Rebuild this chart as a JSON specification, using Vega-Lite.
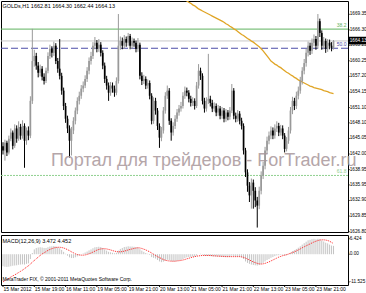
{
"$schema":"https://vega.github.io/schema/vega-lite/v6.json",
"padding":0,
"spacing":0,
"background":"white",
"config":{"view":{"stroke":"#000","strokeWidth":1},"axis":{"labelFont":"Liberation Sans"},"text":{"font":"Liberation Sans"}},
"datasets":{
"levels":[{"lv":"38.2","p":1666.45},{"lv":"50.0","p":1662.7},{"lv":"61.8","p":1637.8}],
"pticks":[{"p":1669.35},{"p":1666.30},{"p":1663.25},{"p":1660.25},{"p":1657.20},{"p":1654.15},{"p":1651.10},{"p":1648.10},{"p":1645.05},{"p":1642.00},{"p":1638.95},{"p":1635.95},{"p":1632.90},{"p":1629.85},{"p":1626.80}],
"mticks":[{"v":6.424,"lab":"6.424"},{"v":0,"lab":"0.00"},{"v":-11.525,"lab":"-11.525"}],
"tticks":[{"i":0,"lab":"15 Mar 2012"},{"i":16,"lab":"15 Mar 19:00"},{"i":32,"lab":"16 Mar 11:00"},{"i":48,"lab":"19 Mar 05:00"},{"i":64,"lab":"19 Mar 21:00"},{"i":80,"lab":"20 Mar 13:00"},{"i":96,"lab":"21 Mar 05:00"},{"i":112,"lab":"21 Mar 21:00"},{"i":128,"lab":"22 Mar 13:00"},{"i":144,"lab":"23 Mar 05:00"},{"i":160,"lab":"23 Mar 21:00"}],
"bars":[
{"i":0,"o":1643.5,"h":1644.3,"l":1641.9,"c":1642.7,"m":-5.0,"s":-11.5},
{"i":1,"o":1642.7,"h":1644.8,"l":1640.7,"c":1644.2,"m":-5.2,"s":-11.0},
{"i":2,"o":1644.2,"h":1644.6,"l":1641.6,"c":1642.3,"m":-5.3,"s":-10.5},
{"i":3,"o":1642.3,"h":1645.6,"l":1641.9,"c":1645.0,"m":-5.2,"s":-10.0},
{"i":4,"o":1645.0,"h":1647.0,"l":1644.5,"c":1646.2,"m":-5.0,"s":-9.5},
{"i":5,"o":1646.2,"h":1646.6,"l":1642.9,"c":1643.6,"m":-4.8,"s":-9.0},
{"i":6,"o":1643.6,"h":1647.8,"l":1643.2,"c":1647.0,"m":-4.7,"s":-8.6},
{"i":7,"o":1647.0,"h":1647.6,"l":1644.2,"c":1645.0,"m":-4.6,"s":-8.1},
{"i":8,"o":1645.0,"h":1648.4,"l":1644.6,"c":1647.3,"m":-4.4,"s":-7.6},
{"i":9,"o":1647.3,"h":1647.9,"l":1644.8,"c":1645.6,"m":-4.3,"s":-7.1},
{"i":10,"o":1645.6,"h":1648.6,"l":1645.0,"c":1647.5,"m":-4.2,"s":-6.6},
{"i":11,"o":1647.5,"h":1648.0,"l":1639.3,"c":1644.6,"m":-4.3,"s":-6.0},
{"i":12,"o":1644.6,"h":1647.2,"l":1643.8,"c":1646.6,"m":-4.0,"s":-5.4},
{"i":13,"o":1646.6,"h":1647.4,"l":1644.7,"c":1645.6,"m":-3.8,"s":-4.8},
{"i":14,"o":1645.6,"h":1653.3,"l":1645.1,"c":1652.4,"m":-2.0,"s":-4.1},
{"i":15,"o":1652.4,"h":1666.5,"l":1651.8,"c":1660.2,"m":0.5,"s":-3.3},
{"i":16,"o":1660.2,"h":1662.4,"l":1659.1,"c":1661.2,"m":2.0,"s":-2.6},
{"i":17,"o":1661.2,"h":1661.8,"l":1658.5,"c":1659.3,"m":2.6,"s":-1.9},
{"i":18,"o":1659.3,"h":1660.0,"l":1657.0,"c":1657.9,"m":2.8,"s":-1.2},
{"i":19,"o":1657.9,"h":1659.5,"l":1657.2,"c":1658.7,"m":2.9,"s":-0.5},
{"i":20,"o":1658.7,"h":1659.2,"l":1656.4,"c":1657.1,"m":2.8,"s":0.1},
{"i":21,"o":1657.1,"h":1657.8,"l":1655.6,"c":1656.3,"m":2.6,"s":0.6},
{"i":22,"o":1656.3,"h":1658.9,"l":1655.9,"c":1658.3,"m":2.6,"s":1.1},
{"i":23,"o":1658.3,"h":1661.9,"l":1657.8,"c":1661.2,"m":2.9,"s":1.6},
{"i":24,"o":1661.2,"h":1663.4,"l":1660.6,"c":1662.6,"m":3.2,"s":2.0},
{"i":25,"o":1662.6,"h":1663.1,"l":1660.9,"c":1661.8,"m":3.3,"s":2.3},
{"i":26,"o":1661.8,"h":1664.0,"l":1661.2,"c":1663.2,"m":3.4,"s":2.6},
{"i":27,"o":1663.2,"h":1663.7,"l":1659.6,"c":1660.2,"m":3.2,"s":2.8},
{"i":28,"o":1660.2,"h":1660.8,"l":1657.9,"c":1658.7,"m":2.9,"s":2.9},
{"i":29,"o":1658.7,"h":1664.5,"l":1656.6,"c":1657.3,"m":2.5,"s":2.9},
{"i":30,"o":1657.3,"h":1657.9,"l":1653.6,"c":1654.4,"m":1.8,"s":2.8},
{"i":31,"o":1654.4,"h":1655.0,"l":1650.6,"c":1651.4,"m":1.0,"s":2.6},
{"i":32,"o":1651.4,"h":1652.0,"l":1648.1,"c":1648.9,"m":0.2,"s":2.3},
{"i":33,"o":1648.9,"h":1649.5,"l":1646.1,"c":1647.0,"m":-0.6,"s":1.9},
{"i":34,"o":1647.0,"h":1647.6,"l":1641.3,"c":1644.6,"m":-1.3,"s":1.5},
{"i":35,"o":1644.6,"h":1647.3,"l":1641.7,"c":1646.6,"m":-1.6,"s":1.0},
{"i":36,"o":1646.6,"h":1649.2,"l":1645.9,"c":1648.5,"m":-1.6,"s":0.6},
{"i":37,"o":1648.5,"h":1651.1,"l":1647.8,"c":1650.5,"m":-1.3,"s":0.2},
{"i":38,"o":1650.5,"h":1653.1,"l":1649.8,"c":1652.4,"m":-0.9,"s":-0.1},
{"i":39,"o":1652.4,"h":1654.2,"l":1651.7,"c":1653.4,"m":-0.5,"s":-0.3},
{"i":40,"o":1653.4,"h":1655.5,"l":1652.8,"c":1654.8,"m":-0.1,"s":-0.4},
{"i":41,"o":1654.8,"h":1656.2,"l":1654.1,"c":1655.4,"m":0.3,"s":-0.4},
{"i":42,"o":1655.4,"h":1657.4,"l":1654.9,"c":1656.7,"m":0.7,"s":-0.3},
{"i":43,"o":1656.7,"h":1659.0,"l":1656.1,"c":1658.3,"m":1.1,"s":-0.1},
{"i":44,"o":1658.3,"h":1660.9,"l":1657.6,"c":1660.2,"m":1.6,"s":0.2},
{"i":45,"o":1660.2,"h":1662.0,"l":1659.5,"c":1661.2,"m":2.0,"s":0.5},
{"i":46,"o":1661.2,"h":1663.9,"l":1660.6,"c":1663.2,"m":2.5,"s":0.9},
{"i":47,"o":1663.2,"h":1664.9,"l":1662.5,"c":1663.8,"m":2.9,"s":1.3},
{"i":48,"o":1663.8,"h":1664.3,"l":1661.9,"c":1662.6,"m":3.0,"s":1.7},
{"i":49,"o":1662.6,"h":1664.5,"l":1662.0,"c":1663.4,"m":3.1,"s":2.0},
{"i":50,"o":1663.4,"h":1663.9,"l":1661.1,"c":1661.8,"m":3.0,"s":2.2},
{"i":51,"o":1661.8,"h":1662.3,"l":1658.6,"c":1659.3,"m":2.6,"s":2.3},
{"i":52,"o":1659.3,"h":1659.9,"l":1655.9,"c":1656.7,"m":2.0,"s":2.3},
{"i":53,"o":1656.7,"h":1657.3,"l":1654.6,"c":1655.4,"m":1.5,"s":2.2},
{"i":54,"o":1655.4,"h":1656.0,"l":1652.4,"c":1654.0,"m":1.0,"s":2.0},
{"i":55,"o":1654.0,"h":1656.1,"l":1653.4,"c":1655.4,"m":0.8,"s":1.8},
{"i":56,"o":1655.4,"h":1656.0,"l":1654.0,"c":1654.8,"m":0.6,"s":1.5},
{"i":57,"o":1654.8,"h":1655.4,"l":1653.2,"c":1654.0,"m":0.4,"s":1.3},
{"i":58,"o":1654.0,"h":1657.0,"l":1653.5,"c":1656.3,"m":0.6,"s":1.1},
{"i":59,"o":1656.3,"h":1669.4,"l":1655.8,"c":1663.2,"m":1.5,"s":1.0},
{"i":60,"o":1663.2,"h":1665.0,"l":1662.4,"c":1664.1,"m":2.2,"s":1.0},
{"i":61,"o":1664.1,"h":1664.8,"l":1662.5,"c":1663.2,"m":2.6,"s":1.1},
{"i":62,"o":1663.2,"h":1665.3,"l":1662.6,"c":1664.5,"m":3.0,"s":1.3},
{"i":63,"o":1664.5,"h":1665.0,"l":1663.0,"c":1663.8,"m":3.1,"s":1.5},
{"i":64,"o":1663.8,"h":1665.7,"l":1663.2,"c":1665.1,"m":3.3,"s":1.8},
{"i":65,"o":1665.1,"h":1665.5,"l":1662.5,"c":1663.2,"m":3.2,"s":2.0},
{"i":66,"o":1663.2,"h":1664.8,"l":1662.6,"c":1664.1,"m":3.2,"s":2.2},
{"i":67,"o":1664.1,"h":1664.6,"l":1663.0,"c":1663.8,"m":3.1,"s":2.4},
{"i":68,"o":1663.8,"h":1664.2,"l":1661.9,"c":1662.6,"m":2.9,"s":2.6},
{"i":69,"o":1662.6,"h":1664.7,"l":1662.0,"c":1663.4,"m":2.8,"s":2.7},
{"i":70,"o":1663.4,"h":1663.8,"l":1656.6,"c":1657.3,"m":2.1,"s":2.6},
{"i":71,"o":1657.3,"h":1658.0,"l":1655.5,"c":1656.3,"m":1.5,"s":2.4},
{"i":72,"o":1656.3,"h":1657.5,"l":1655.7,"c":1656.7,"m":1.0,"s":2.1},
{"i":73,"o":1656.7,"h":1657.2,"l":1654.7,"c":1655.4,"m":0.5,"s":1.8},
{"i":74,"o":1655.4,"h":1656.6,"l":1654.8,"c":1655.9,"m":0.2,"s":1.4},
{"i":75,"o":1655.9,"h":1656.4,"l":1652.7,"c":1653.4,"m":-0.3,"s":1.0},
{"i":76,"o":1653.4,"h":1653.9,"l":1647.8,"c":1648.5,"m":-1.2,"s":0.5},
{"i":77,"o":1648.5,"h":1653.1,"l":1647.9,"c":1652.4,"m":-1.5,"s":0.0},
{"i":78,"o":1652.4,"h":1653.0,"l":1649.7,"c":1650.5,"m":-1.8,"s":-0.5},
{"i":79,"o":1650.5,"h":1651.0,"l":1646.7,"c":1647.5,"m":-2.4,"s":-1.0},
{"i":80,"o":1647.5,"h":1648.0,"l":1643.2,"c":1645.2,"m":-3.0,"s":-1.4},
{"i":81,"o":1645.2,"h":1647.3,"l":1644.5,"c":1646.6,"m":-3.3,"s":-1.8},
{"i":82,"o":1646.6,"h":1651.2,"l":1646.0,"c":1650.5,"m":-3.1,"s":-2.2},
{"i":83,"o":1650.5,"h":1654.1,"l":1649.9,"c":1653.4,"m":-2.7,"s":-2.5},
{"i":84,"o":1653.4,"h":1655.4,"l":1652.8,"c":1654.4,"m":-2.3,"s":-2.7},
{"i":85,"o":1654.4,"h":1654.9,"l":1647.7,"c":1648.5,"m":-2.5,"s":-2.8},
{"i":86,"o":1648.5,"h":1649.0,"l":1644.6,"c":1646.2,"m":-2.9,"s":-2.9},
{"i":87,"o":1646.2,"h":1648.2,"l":1645.6,"c":1647.5,"m":-3.0,"s":-2.9},
{"i":88,"o":1647.5,"h":1649.6,"l":1646.9,"c":1648.9,"m":-3.0,"s":-2.9},
{"i":89,"o":1648.9,"h":1650.8,"l":1648.3,"c":1650.1,"m":-2.8,"s":-2.8},
{"i":90,"o":1650.1,"h":1651.6,"l":1649.5,"c":1650.9,"m":-2.6,"s":-2.7},
{"i":91,"o":1650.9,"h":1652.2,"l":1650.3,"c":1651.4,"m":-2.4,"s":-2.6},
{"i":92,"o":1651.4,"h":1654.1,"l":1650.9,"c":1653.4,"m":-2.0,"s":-2.4},
{"i":93,"o":1653.4,"h":1655.2,"l":1652.8,"c":1654.4,"m":-1.6,"s":-2.2,"ma":1672.3},
{"i":94,"o":1654.4,"h":1655.0,"l":1653.3,"c":1654.0,"m":-1.3,"s":-1.9,"ma":1671.95},
{"i":95,"o":1654.0,"h":1654.5,"l":1652.1,"c":1652.8,"m":-1.2,"s":-1.7,"ma":1671.7},
{"i":96,"o":1652.8,"h":1653.4,"l":1651.3,"c":1652.0,"m":-1.1,"s":-1.4,"ma":1671.5},
{"i":97,"o":1652.0,"h":1653.1,"l":1651.4,"c":1652.4,"m":-1.0,"s":-1.2,"ma":1671.2},
{"i":98,"o":1652.4,"h":1652.9,"l":1650.7,"c":1651.4,"m":-1.0,"s":-1.0,"ma":1671.0},
{"i":99,"o":1651.4,"h":1656.1,"l":1651.0,"c":1655.4,"m":-0.6,"s":-0.8,"ma":1670.7},
{"i":100,"o":1655.4,"h":1659.6,"l":1654.8,"c":1658.3,"m":0.0,"s":-0.7,"ma":1670.4},
{"i":101,"o":1658.3,"h":1658.9,"l":1656.5,"c":1657.3,"m":0.2,"s":-0.6,"ma":1670.2},
{"i":102,"o":1657.3,"h":1657.8,"l":1651.7,"c":1652.4,"m":-0.2,"s":-0.5,"ma":1670.0},
{"i":103,"o":1652.4,"h":1653.0,"l":1650.1,"c":1650.9,"m":-0.6,"s":-0.5,"ma":1669.8},
{"i":104,"o":1650.9,"h":1653.1,"l":1650.3,"c":1652.4,"m":-0.7,"s":-0.5,"ma":1669.6},
{"i":105,"o":1652.4,"h":1661.6,"l":1651.8,"c":1652.8,"m":-0.7,"s":-0.5,"ma":1669.4},
{"i":106,"o":1652.8,"h":1653.4,"l":1651.3,"c":1652.0,"m":-0.8,"s":-0.5,"ma":1669.2},
{"i":107,"o":1652.0,"h":1652.6,"l":1650.2,"c":1650.9,"m":-0.9,"s":-0.6,"ma":1669.0},
{"i":108,"o":1650.9,"h":1652.1,"l":1650.3,"c":1651.4,"m":-0.9,"s":-0.7,"ma":1668.8},
{"i":109,"o":1651.4,"h":1651.9,"l":1649.4,"c":1650.1,"m":-1.0,"s":-0.7,"ma":1668.6},
{"i":110,"o":1650.1,"h":1651.6,"l":1649.5,"c":1650.9,"m":-1.0,"s":-0.8,"ma":1668.4},
{"i":111,"o":1650.9,"h":1651.4,"l":1648.8,"c":1649.5,"m":-1.1,"s":-0.8,"ma":1668.2},
{"i":112,"o":1649.5,"h":1651.2,"l":1648.9,"c":1650.5,"m":-1.1,"s":-0.9,"ma":1668.0},
{"i":113,"o":1650.5,"h":1651.0,"l":1648.2,"c":1648.9,"m":-1.2,"s":-0.9,"ma":1667.8},
{"i":114,"o":1648.9,"h":1650.8,"l":1648.3,"c":1650.1,"m":-1.2,"s":-1.0,"ma":1667.5},
{"i":115,"o":1650.1,"h":1650.6,"l":1648.6,"c":1649.3,"m":-1.2,"s":-1.0,"ma":1667.3},
{"i":116,"o":1649.3,"h":1651.2,"l":1648.7,"c":1650.5,"m":-1.1,"s":-1.0,"ma":1667.0},
{"i":117,"o":1650.5,"h":1655.7,"l":1650.0,"c":1654.4,"m":-0.6,"s":-1.0,"ma":1666.8},
{"i":118,"o":1654.4,"h":1654.9,"l":1648.8,"c":1649.5,"m":-0.8,"s":-1.0,"ma":1666.5},
{"i":119,"o":1649.5,"h":1650.1,"l":1648.2,"c":1648.9,"m":-1.0,"s":-1.0,"ma":1666.3},
{"i":120,"o":1648.9,"h":1650.6,"l":1648.3,"c":1649.9,"m":-1.0,"s":-1.0,"ma":1666.0},
{"i":121,"o":1649.9,"h":1650.4,"l":1647.8,"c":1648.5,"m":-1.1,"s":-1.0,"ma":1665.7},
{"i":122,"o":1648.5,"h":1649.1,"l":1646.8,"c":1647.5,"m":-1.3,"s":-1.1,"ma":1665.4},
{"i":123,"o":1647.5,"h":1648.0,"l":1641.9,"c":1642.7,"m":-2.0,"s":-1.3,"ma":1665.2},
{"i":124,"o":1642.7,"h":1643.2,"l":1637.5,"c":1638.4,"m":-3.0,"s":-1.6,"ma":1664.9},
{"i":125,"o":1638.4,"h":1639.0,"l":1634.6,"c":1635.8,"m":-3.6,"s":-2.0,"ma":1664.6},
{"i":126,"o":1635.8,"h":1636.5,"l":1632.6,"c":1633.9,"m":-4.0,"s":-2.4,"ma":1664.4},
{"i":127,"o":1633.9,"h":1637.2,"l":1631.3,"c":1636.4,"m":-4.3,"s":-2.8,"ma":1664.1},
{"i":128,"o":1636.4,"h":1637.0,"l":1631.3,"c":1634.8,"m":-4.5,"s":-3.2,"ma":1663.9},
{"i":129,"o":1634.8,"h":1635.5,"l":1631.6,"c":1632.9,"m":-4.6,"s":-3.5,"ma":1663.6},
{"i":130,"o":1632.9,"h":1633.6,"l":1627.6,"c":1631.9,"m":-4.7,"s":-3.8,"ma":1663.3},
{"i":131,"o":1631.9,"h":1635.6,"l":1631.2,"c":1634.8,"m":-4.5,"s":-4.0,"ma":1663.0},
{"i":132,"o":1634.8,"h":1638.6,"l":1634.1,"c":1637.8,"m":-4.1,"s":-4.1,"ma":1662.6},
{"i":133,"o":1637.8,"h":1640.5,"l":1637.1,"c":1639.7,"m":-3.6,"s":-4.0,"ma":1662.2},
{"i":134,"o":1639.7,"h":1643.4,"l":1639.0,"c":1642.7,"m":-3.0,"s":-3.8,"ma":1661.7},
{"i":135,"o":1642.7,"h":1645.4,"l":1642.0,"c":1644.6,"m":-2.4,"s":-3.5,"ma":1661.2},
{"i":136,"o":1644.6,"h":1646.4,"l":1643.9,"c":1645.6,"m":-2.0,"s":-3.2,"ma":1660.7},
{"i":137,"o":1645.6,"h":1647.4,"l":1644.9,"c":1646.6,"m":-1.5,"s":-2.8,"ma":1660.2},
{"i":138,"o":1646.6,"h":1647.2,"l":1644.9,"c":1645.6,"m":-1.2,"s":-2.4,"ma":1659.9},
{"i":139,"o":1645.6,"h":1647.8,"l":1645.0,"c":1647.0,"m":-0.8,"s":-2.0,"ma":1659.6},
{"i":140,"o":1647.0,"h":1648.4,"l":1646.3,"c":1647.5,"m":-0.5,"s":-1.6,"ma":1659.4},
{"i":141,"o":1647.5,"h":1648.1,"l":1645.5,"c":1646.2,"m":-0.4,"s":-1.2,"ma":1659.1},
{"i":142,"o":1646.2,"h":1647.7,"l":1645.6,"c":1647.0,"m":-0.2,"s":-0.9,"ma":1658.9},
{"i":143,"o":1647.0,"h":1647.6,"l":1644.9,"c":1645.6,"m":-0.2,"s":-0.6,"ma":1658.6},
{"i":144,"o":1645.6,"h":1646.1,"l":1642.3,"c":1643.0,"m":-0.5,"s":-0.4,"ma":1658.3},
{"i":145,"o":1643.0,"h":1645.3,"l":1642.5,"c":1644.6,"m":-0.4,"s":-0.2,"ma":1658.0},
{"i":146,"o":1644.6,"h":1647.3,"l":1644.0,"c":1646.6,"m":-0.1,"s":0.1,"ma":1657.8},
{"i":147,"o":1646.6,"h":1651.2,"l":1646.0,"c":1650.5,"m":0.6,"s":0.4,"ma":1657.5},
{"i":148,"o":1650.5,"h":1653.2,"l":1649.8,"c":1652.4,"m":1.3,"s":0.7,"ma":1657.3},
{"i":149,"o":1652.4,"h":1653.0,"l":1650.6,"c":1651.4,"m":1.7,"s":1.0,"ma":1657.0},
{"i":150,"o":1651.4,"h":1654.2,"l":1650.8,"c":1653.4,"m":2.2,"s":1.4,"ma":1656.8},
{"i":151,"o":1653.4,"h":1655.2,"l":1652.7,"c":1654.4,"m":2.7,"s":1.8,"ma":1656.5},
{"i":152,"o":1654.4,"h":1657.1,"l":1653.8,"c":1656.3,"m":3.3,"s":2.2,"ma":1656.3},
{"i":153,"o":1656.3,"h":1659.0,"l":1655.6,"c":1658.3,"m":4.0,"s":2.7,"ma":1656.1},
{"i":154,"o":1658.3,"h":1660.6,"l":1657.6,"c":1659.8,"m":4.6,"s":3.1,"ma":1655.9},
{"i":155,"o":1659.8,"h":1662.6,"l":1659.1,"c":1661.8,"m":5.2,"s":3.5,"ma":1655.7},
{"i":156,"o":1661.8,"h":1664.0,"l":1661.1,"c":1663.2,"m":5.8,"s":3.9,"ma":1655.5},
{"i":157,"o":1663.2,"h":1663.8,"l":1661.4,"c":1662.2,"m":6.0,"s":4.3,"ma":1655.3},
{"i":158,"o":1662.2,"h":1664.6,"l":1661.6,"c":1663.8,"m":6.3,"s":4.7,"ma":1655.2},
{"i":159,"o":1663.8,"h":1665.4,"l":1663.1,"c":1664.5,"m":6.4,"s":5.1,"ma":1655.0},
{"i":160,"o":1664.5,"h":1665.1,"l":1662.4,"c":1663.2,"m":6.2,"s":5.4,"ma":1654.9},
{"i":161,"o":1663.2,"h":1669.4,"l":1662.6,"c":1668.0,"m":6.4,"s":5.7,"ma":1654.8},
{"i":162,"o":1668.0,"h":1668.5,"l":1664.9,"c":1665.7,"m":6.3,"s":5.9,"ma":1654.7},
{"i":163,"o":1665.7,"h":1666.2,"l":1662.4,"c":1663.2,"m":5.7,"s":6.0,"ma":1654.6},
{"i":164,"o":1663.2,"h":1664.9,"l":1662.5,"c":1664.1,"m":5.3,"s":6.0,"ma":1654.4},
{"i":165,"o":1664.1,"h":1664.6,"l":1661.8,"c":1662.6,"m":4.8,"s":5.9,"ma":1654.3},
{"i":166,"o":1662.6,"h":1664.5,"l":1662.0,"c":1663.8,"m":4.5,"s":5.7,"ma":1654.2},
{"i":167,"o":1663.8,"h":1664.4,"l":1662.5,"c":1663.2,"m":4.0,"s":5.4,"ma":1654.0},
{"i":168,"o":1663.2,"h":1663.9,"l":1662.1,"c":1662.8,"m":3.6,"s":4.9,"ma":1653.9},
{"i":169,"o":1662.81,"h":1664.30,"l":1662.44,"c":1664.13,"m":3.472,"s":4.452,"ma":1653.8}
]},
"vconcat":[
{
"width":347,"height":231,
"layer":[
{"data":{"name":"pticks"},
 "mark":{"type":"rule","color":"#000","strokeWidth":1},
 "encoding":{"x":{"datum":176.4,"type":"quantitative","scale":{"domain":[-1.02,176.4],"nice":false,"zero":false},"axis":null},
   "x2":{"datum":177.2},
   "y":{"field":"p","type":"quantitative","scale":{"domain":[1626.73,1671.95],"nice":false,"zero":false},"axis":null}}},
{"data":{"name":"pticks"},
 "mark":{"type":"text","align":"left","baseline":"middle","fontSize":4.7,"color":"#000"},
 "encoding":{"x":{"datum":177.3,"type":"quantitative","axis":null},"y":{"field":"p","type":"quantitative","axis":null},"text":{"field":"p","type":"quantitative","format":".2f"}}},
{"data":{"name":"bars"},"transform":[{"filter":"datum.i == 169"}],
 "mark":{"type":"rule","color":"#c8c8c8","strokeWidth":1},
 "encoding":{"y":{"field":"c","type":"quantitative","axis":null}}},
{"data":{"name":"levels"},
 "mark":{"type":"rule","strokeWidth":1},
 "encoding":{"y":{"field":"p","type":"quantitative","axis":null},
   "color":{"field":"lv","type":"nominal","scale":{"domain":["38.2","50.0","61.8"],"range":["#5fb35f","#4c4ca8","#8fd08f"]},"legend":null},
   "strokeDash":{"field":"lv","type":"nominal","scale":{"domain":["38.2","50.0","61.8"],"range":[[1,0],[7,3],[2,1]]},"legend":null}}},
{"data":{"name":"levels"},
 "mark":{"type":"text","align":"right","baseline":"bottom","fontSize":5,"dy":-1},
 "encoding":{"x":{"datum":175.6,"type":"quantitative","axis":null},
   "y":{"field":"p","type":"quantitative","axis":null},
   "text":{"field":"lv","type":"nominal"},
   "color":{"field":"lv","type":"nominal","scale":{"domain":["38.2","50.0","61.8"],"range":["#5fb35f","#4c4ca8","#5fb35f"]},"legend":null}}},
{"data":{"name":"bars"},"transform":[{"filter":"isValid(datum.ma)"}],
 "mark":{"type":"line","color":"#e0a526","strokeWidth":1.3,"clip":true},
 "encoding":{"x":{"field":"i","type":"quantitative","axis":null},"y":{"field":"ma","type":"quantitative","axis":null}}},
{"data":{"name":"bars"},
 "mark":{"type":"rule","strokeWidth":1},
 "encoding":{"x":{"field":"i","type":"quantitative","axis":null},"y":{"field":"l","type":"quantitative","axis":null},"y2":{"field":"h"},
   "color":{"condition":{"test":"datum.c >= datum.o","value":"#999999"},"value":"#000000"}}},
{"data":{"name":"bars"},
 "mark":{"type":"rule","strokeWidth":1.7},
 "encoding":{"x":{"field":"i","type":"quantitative","axis":null},"y":{"field":"o","type":"quantitative","axis":null},"y2":{"field":"c"},
   "color":{"condition":{"test":"datum.c >= datum.o","value":"#999999"},"value":"#000000"}}},
{"data":{"values":[{"t":"Портал для трейдеров - ForTrader.ru"}]},
 "mark":{"type":"text","align":"left","baseline":"middle","fontSize":18,"color":"#a9979b","opacity":0.85},
 "encoding":{"x":{"datum":24.5,"type":"quantitative","axis":null},"y":{"datum":1640.7,"type":"quantitative","axis":null},"text":{"field":"t","type":"nominal"}}},
{"data":{"values":[{"t":"GOLDs,H1  1662.81 1664.30 1662.44 1664.13"}]},
 "mark":{"type":"text","align":"left","baseline":"middle","fontSize":5.5,"color":"#000"},
 "encoding":{"x":{"datum":-0.3,"type":"quantitative","axis":null},"y":{"datum":1671.0,"type":"quantitative","axis":null},"text":{"field":"t","type":"nominal"}}},
{"data":{"name":"bars"},"transform":[{"filter":"datum.i == 169"}],
 "mark":{"type":"rect","color":"#000"},
 "encoding":{"x":{"datum":176.8,"type":"quantitative","axis":null},"x2":{"datum":186.0},"y":{"datum":1663.45,"type":"quantitative","axis":null},"y2":{"datum":1664.95}}},
{"data":{"name":"bars"},"transform":[{"filter":"datum.i == 169"}],
 "mark":{"type":"text","align":"left","baseline":"middle","fontSize":4.7,"color":"#fff"},
 "encoding":{"x":{"datum":177.3,"type":"quantitative","axis":null},"y":{"field":"c","type":"quantitative","axis":null},"text":{"field":"c","type":"quantitative","format":".2f"}}}
]
},
{
"width":347,"height":50,
"layer":[
{"data":{"name":"bars"},
 "mark":{"type":"rule","color":"#c4c4c4","strokeWidth":1},
 "encoding":{"x":{"field":"i","type":"quantitative","scale":{"domain":[-1.02,176.4],"nice":false,"zero":false},"axis":null},
   "y":{"field":"m","type":"quantitative","scale":{"domain":[-12.8,8.0],"nice":false,"zero":false},"axis":null},
   "y2":{"datum":0}}},
{"data":{"name":"bars"},
 "mark":{"type":"line","color":"#ff2020","strokeWidth":1,"strokeDash":[1,1]},
 "encoding":{"x":{"field":"i","type":"quantitative","axis":null},"y":{"field":"s","type":"quantitative","axis":null}}},
{"data":{"name":"mticks"},
 "mark":{"type":"rule","color":"#000","strokeWidth":1},
 "encoding":{"x":{"datum":176.4,"type":"quantitative","axis":null},"x2":{"datum":177.2},"y":{"field":"v","type":"quantitative","axis":null}}},
{"data":{"name":"mticks"},
 "mark":{"type":"text","align":"left","baseline":"middle","fontSize":4.7,"color":"#000"},
 "encoding":{"x":{"datum":177.3,"type":"quantitative","axis":null},"y":{"field":"v","type":"quantitative","axis":null},"text":{"field":"lab","type":"nominal"}}},
{"data":{"name":"tticks"},
 "mark":{"type":"rule","color":"#000","strokeWidth":1},
 "encoding":{"x":{"field":"i","type":"quantitative","axis":null},"y":{"datum":-12.8,"type":"quantitative","axis":null},"y2":{"datum":-13.6}}},
{"data":{"name":"tticks"},
 "mark":{"type":"text","align":"left","baseline":"middle","fontSize":5,"color":"#000","dx":0.5},
 "encoding":{"x":{"field":"i","type":"quantitative","axis":null},"y":{"datum":-14.5,"type":"quantitative","axis":null},"text":{"field":"lab","type":"nominal"}}},
{"data":{"values":[{"t":"MACD(12,26,9) 3.472 4.452"}]},
 "mark":{"type":"text","align":"left","baseline":"middle","fontSize":5.5,"color":"#000"},
 "encoding":{"x":{"datum":-0.3,"type":"quantitative","axis":null},"y":{"datum":5.5,"type":"quantitative","axis":null},"text":{"field":"t","type":"nominal"}}},
{"data":{"values":[{"t":"MetaTrader FIX, © 2001-2011 MetaQuotes Software Corp."}]},
 "mark":{"type":"text","align":"left","baseline":"middle","fontSize":5,"color":"#000"},
 "encoding":{"x":{"datum":-0.3,"type":"quantitative","axis":null},"y":{"datum":-10.2,"type":"quantitative","axis":null},"text":{"field":"t","type":"nominal"}}}
]
}
]
}
